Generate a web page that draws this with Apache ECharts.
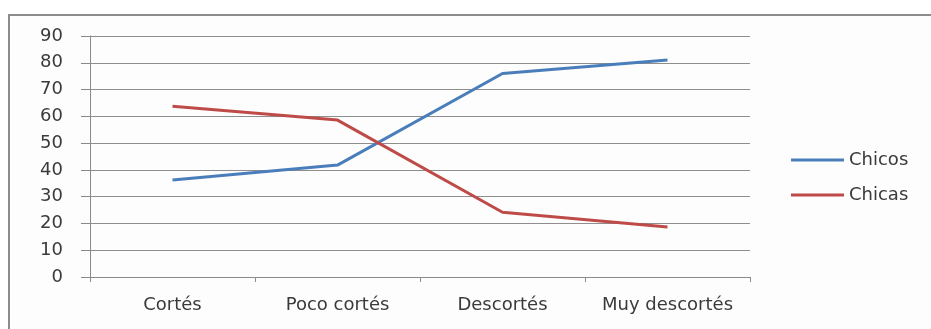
<!DOCTYPE html>
<html>
<head>
<meta charset="utf-8">
<script src="https://cdn.jsdelivr.net/npm/echarts@6/dist/echarts.min.js"></script>
<style>
  html, body { margin: 0; padding: 0; background: #ffffff; }
  #chart { width: 931px; height: 329px; }
</style>
</head>
<body>
<div id="chart"></div>
<script>
// Categories and values
const categories = ['Cortés', 'Poco cortés', 'Descortés', 'Muy descortés'];
const chicos = [36.2, 41.8, 76, 81];
const chicas = [63.8, 58.6, 24.2, 18.7];
const seriesNames = ['Chicos', 'Chicas'];

const chart = echarts.init(document.getElementById('chart'), null, { renderer: 'canvas' });
const font = '"DejaVu Sans", "Open Sans", sans-serif';
const textColor = '#3a3a3a';

chart.setOption({
  backgroundColor: '#ffffff',
  animation: false,
  graphic: [{
    type: 'rect',
    shape: { x: 9, y: 15, width: 940, height: 330 },
    style: { fill: '#fdfdfd', stroke: '#8c8c8c', lineWidth: 2 },
    z: -10
  }],
  grid: { left: 90, right: 181, top: 36, bottom: 52, containLabel: false },
  legend: {
    orient: 'vertical',
    left: 791,
    top: 151,
    padding: 0,
    itemWidth: 53,
    itemHeight: 3,
    itemGap: 17,
    icon: 'rect',
    textStyle: { fontFamily: font, fontSize: 18, color: textColor },
    data: seriesNames
  },
  xAxis: {
    type: 'category',
    data: categories,
    boundaryGap: true,
    axisLine: { show: true, lineStyle: { color: '#8a8a8a', width: 1 } },
    axisTick: { show: true, interval: 0, length: 5, lineStyle: { color: '#8a8a8a' } },
    axisLabel: { interval: 0, hideOverlap: false, fontFamily: font, fontSize: 18, color: textColor, margin: 19 }
  },
  yAxis: {
    type: 'value',
    min: 0,
    max: 90,
    interval: 10,
    axisLine: { show: true, lineStyle: { color: '#8a8a8a', width: 1 } },
    axisTick: { show: true, length: 9, lineStyle: { color: '#8a8a8a' } },
    axisLabel: { fontFamily: font, fontSize: 18, color: textColor, margin: 27 },
    splitLine: { show: true, lineStyle: { color: '#8e8e8e', width: 1 } }
  },
  series: [
    {
      name: seriesNames[0],
      type: 'line',
      data: chicos,
      symbol: 'none',
      lineStyle: { color: '#4a7ebb', width: 3 },
      itemStyle: { color: '#4a7ebb' }
    },
    {
      name: seriesNames[1],
      type: 'line',
      data: chicas,
      symbol: 'none',
      lineStyle: { color: '#be4b48', width: 3 },
      itemStyle: { color: '#be4b48' }
    }
  ]
});
</script>
</body>
</html>
